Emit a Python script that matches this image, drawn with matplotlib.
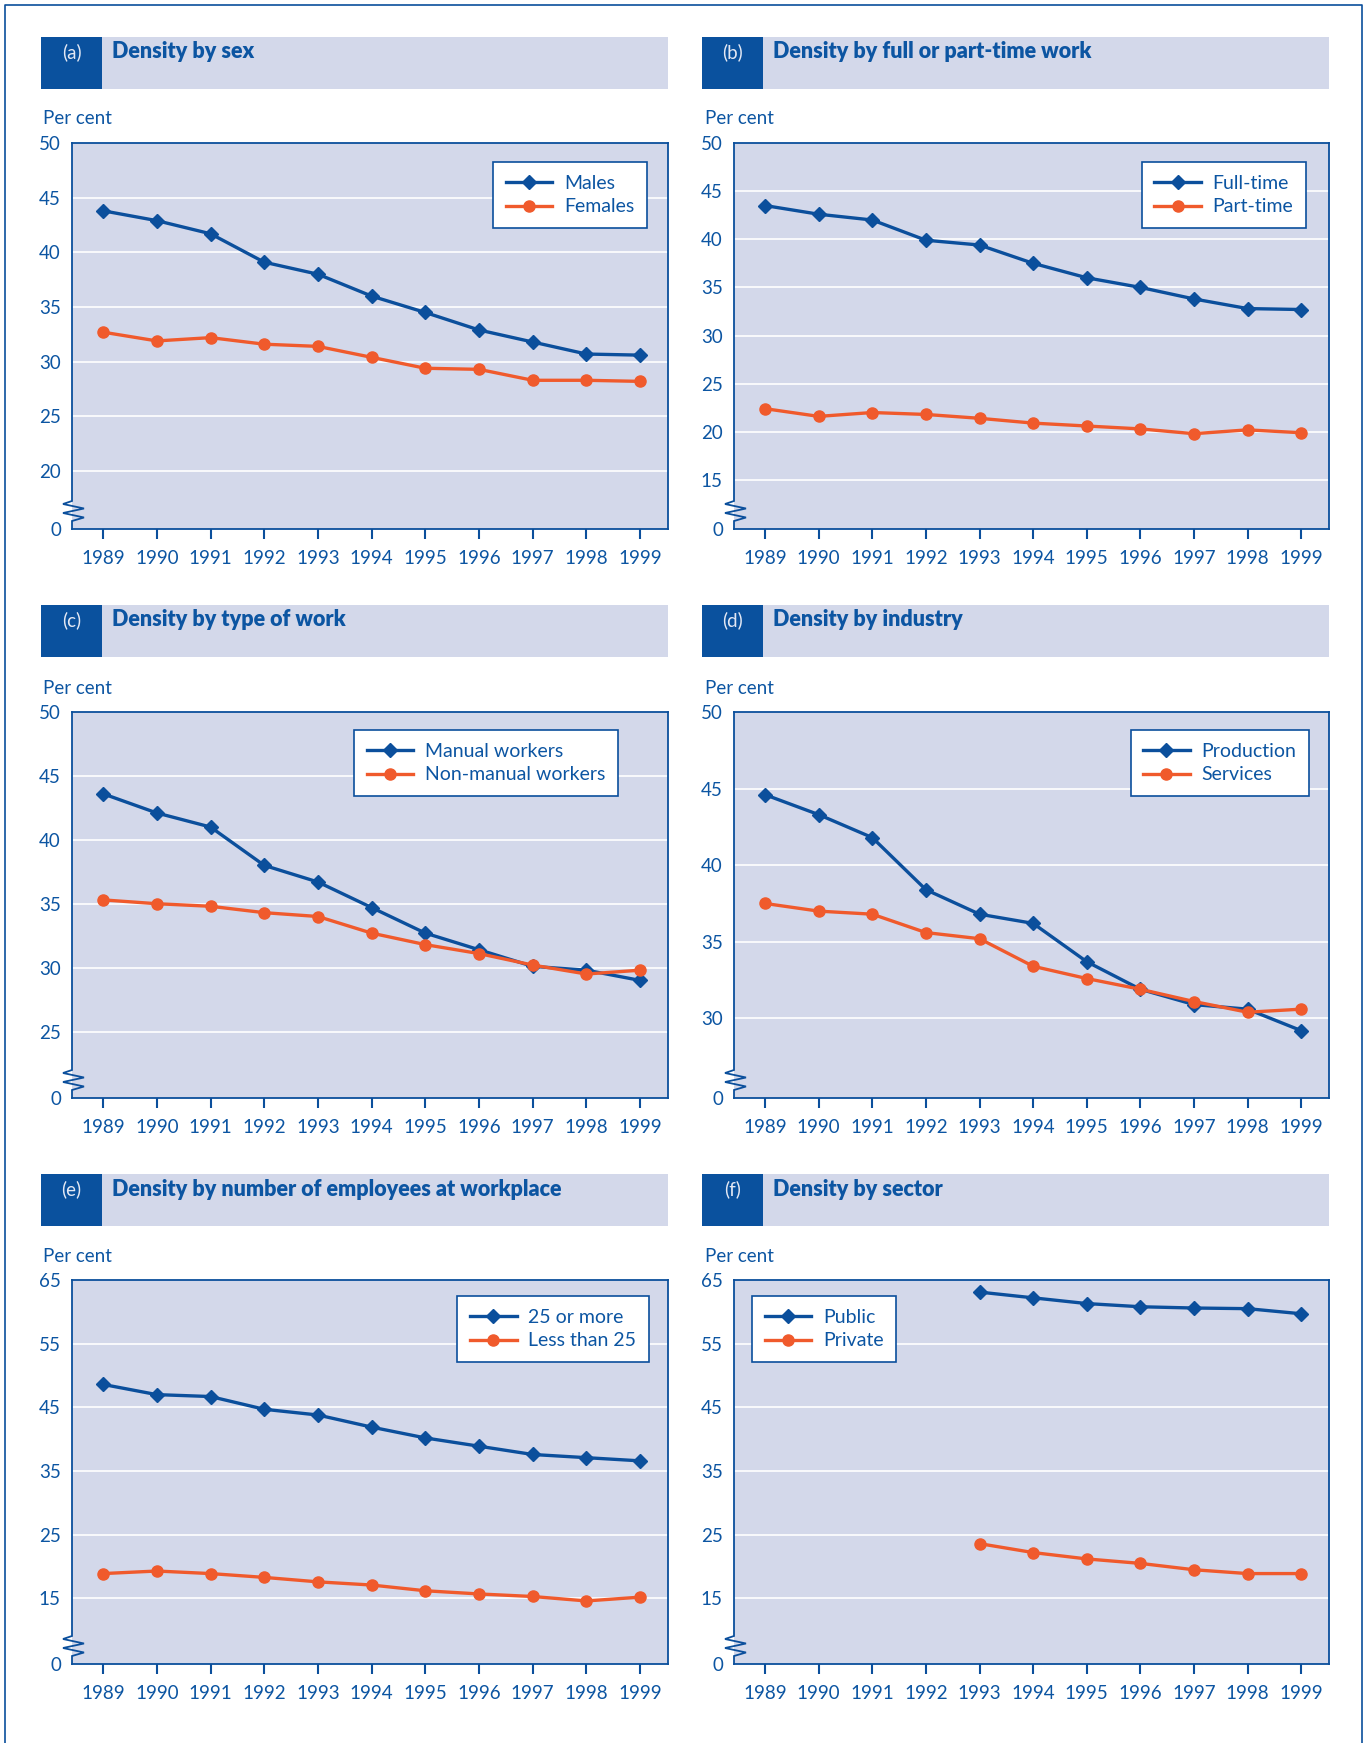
import matplotlib
matplotlib.use("Agg")
import matplotlib.pyplot as plt
from matplotlib.lines import Line2D
from matplotlib.patches import Rectangle

plt.rcParams['font.family'] = ['Lato', 'DejaVu Sans']

years = [1989, 1990, 1991, 1992, 1993, 1994, 1995, 1996, 1997, 1998, 1999]
year_labels = [str(y) for y in years]

males = [43.8, 42.9, 41.7, 39.1, 38.0, 36.0, 34.5, 32.9, 31.8, 30.7, 30.6]
females = [32.7, 31.9, 32.2, 31.6, 31.4, 30.4, 29.4, 29.3, 28.3, 28.3, 28.2]

full_time = [43.5, 42.6, 42.0, 39.9, 39.4, 37.5, 36.0, 35.0, 33.8, 32.8, 32.7]
part_time = [22.4, 21.6, 22.0, 21.8, 21.4, 20.9, 20.6, 20.3, 19.8, 20.2, 19.9]

manual = [43.6, 42.1, 41.0, 38.0, 36.7, 34.7, 32.7, 31.4, 30.1, 29.8, 29.0]
non_manual = [35.3, 35.0, 34.8, 34.3, 34.0, 32.7, 31.8, 31.1, 30.2, 29.5, 29.8]

production = [44.6, 43.3, 41.8, 38.4, 36.8, 36.2, 33.7, 31.9, 30.9, 30.6, 29.2]
services = [37.5, 37.0, 36.8, 35.6, 35.2, 33.4, 32.6, 31.9, 31.1, 30.4, 30.6]

emp_25_plus = [48.6, 47.0, 46.7, 44.7, 43.8, 41.9, 40.2, 38.9, 37.6, 37.1, 36.6]
emp_lt_25 = [18.9, 19.3, 18.9, 18.3, 17.6, 17.1, 16.2, 15.7, 15.3, 14.6, 15.2]

sector_years = [1993, 1994, 1995, 1996, 1997, 1998, 1999]
public = [63.1, 62.2, 61.3, 60.8, 60.6, 60.5, 59.7]
private = [23.6, 22.2, 21.2, 20.5, 19.5, 18.9, 18.9]

BLUE = '#0b4f9c'
TEXT = '#0c55a2'
ORANGE = '#f05a2c'
FACE = '#d3d8ea'
HEADER = '#d3d8ea'

W, H = 1367, 1743
fig = plt.figure(figsize=(W / 100, H / 100), dpi=100)


def fx(x):
    return x / W


def fy(y):
    return 1 - y / H


def fig_line(xs, ys, **kw):
    fig.add_artist(Line2D([fx(x) for x in xs], [fy(y) for y in ys],
                          transform=fig.transFigure, **kw))


# outer page border
fig_line([4.5, 4.5, 1361.5, 1361.5], [1750, 4.5, 4.5, 1750], color=BLUE, lw=1.2)

panels = [
    dict(tag='(a)', title='Density by sex', col=0, row=0,
         series=[(years, males, 'Males'), (years, females, 'Females')],
         ylim=(14.7, 50), yticks=[20, 25, 30, 35, 40, 45, 50],
         legend=('upper right', 21, 19)),
    dict(tag='(b)', title='Density by full or part-time work', col=1, row=0,
         series=[(years, full_time, 'Full-time'), (years, part_time, 'Part-time')],
         ylim=(9.9, 50), yticks=[15, 20, 25, 30, 35, 40, 45, 50],
         legend=('upper right', 23, 19)),
    dict(tag='(c)', title='Density by type of work', col=0, row=1,
         series=[(years, manual, 'Manual workers'), (years, non_manual, 'Non-manual workers')],
         ylim=(19.8, 50), yticks=[25, 30, 35, 40, 45, 50],
         legend=('upper right', 50, 18)),
    dict(tag='(d)', title='Density by industry', col=1, row=1,
         series=[(years, production, 'Production'), (years, services, 'Services')],
         ylim=(24.8, 50), yticks=[30, 35, 40, 45, 50],
         legend=('upper right', 20, 18)),
    dict(tag='(e)', title='Density by number of employees at workplace', col=0, row=2,
         series=[(years, emp_25_plus, '25 or more'), (years, emp_lt_25, 'Less than 25')],
         ylim=(4.7, 65), yticks=[15, 25, 35, 45, 55, 65],
         legend=('upper right', 19, 16)),
    dict(tag='(f)', title='Density by sector', col=1, row=2,
         series=[(sector_years, public, 'Public'), (sector_years, private, 'Private')],
         ylim=(4.7, 65), yticks=[15, 25, 35, 45, 55, 65],
         legend=('upper left', 18, 16)),
]

col_left = [72, 734]
col_right = [668, 1329]
head_left = [41, 702]
row_top = [143, 712, 1280]
row_bot = [529, 1098, 1664]
head_top = [37, 605, 1174]
head_bot = [89, 657, 1226]

for p in panels:
    c, r = p['col'], p['row']
    L, R, T, B = col_left[c], col_right[c], row_top[r], row_bot[r]
    # header band
    hl, ht, hb = head_left[c], head_top[r], head_bot[r]
    fig.add_artist(Rectangle((fx(hl), fy(hb)), fx(R) - fx(hl), fy(ht) - fy(hb),
                             transform=fig.transFigure, facecolor=HEADER, edgecolor='none'))
    fig.add_artist(Rectangle((fx(hl), fy(hb)), fx(61), fy(ht) - fy(hb),
                             transform=fig.transFigure, facecolor='#0a519e', edgecolor='none'))
    fig.text(fx(hl + 30.5), fy(ht + 15), p['tag'], color='#e3e8f4', fontsize=13.5,
             ha='center', va='center', fontweight='normal')
    fig.text(fx(hl + 71), fy(ht + 15), p['title'], color=TEXT, fontsize=15.5,
             ha='left', va='center', fontweight='heavy')
    fig.text(fx(L - 29), fy(T - 24), 'Per cent', color=TEXT, fontsize=13.5,
             ha='left', va='center')

    ax = fig.add_axes([fx(L), fy(B), fx(R) - fx(L), fy(T) - fy(B)])
    ax.set_facecolor(FACE)
    ax.set_xlim(1988.42, 1999.52)
    ax.set_ylim(*p['ylim'])
    ax.set_xticks(years)
    ax.set_xticklabels(year_labels)
    ax.set_yticks([p['ylim'][0]] + p['yticks'])
    ax.set_yticklabels(['0'] + [str(v) for v in p['yticks']])
    for v in p['yticks'][:-1]:
        ax.axhline(v, color='white', lw=1.2, zorder=1)
    ax.tick_params(axis='x', direction='out', length=7, width=1.5, color=BLUE,
                   labelcolor=TEXT, labelsize=13.5, pad=8)
    ax.tick_params(axis='y', length=0, labelcolor=TEXT, labelsize=13.5, pad=8)
    for s in ['top', 'right', 'bottom']:
        ax.spines[s].set_color(BLUE)
        ax.spines[s].set_linewidth(1.3)
    ax.spines['left'].set_visible(False)

    (x1, y1, l1), (x2, y2, l2) = p['series']
    ax.plot(x1, y1, color=BLUE, lw=2.4, marker='D', markersize=7.5, label=l1, zorder=3)
    ax.plot(x2, y2, color=ORANGE, lw=2.4, marker='o', markersize=8, label=l2, zorder=3)

    loc, gx, gy = p['legend']
    w_ax, h_ax = R - L, B - T
    if loc == 'upper right':
        anchor = (1 - gx / w_ax, 1 - gy / h_ax)
    else:
        anchor = (gx / w_ax, 1 - gy / h_ax)
    leg = ax.legend(loc=loc, bbox_to_anchor=anchor, borderaxespad=0, fancybox=False,
                    framealpha=1, edgecolor=BLUE, fontsize=14, handlelength=2.4,
                    labelspacing=0.35, borderpad=0.65, handletextpad=0.6)
    leg.get_frame().set_linewidth(1.2)
    for t in leg.get_texts():
        t.set_color(TEXT)

    # left spine with axis-break zigzag
    fig_line([L, L, L - 9, L + 12, L - 9, L + 12, L, L],
             [T, B - 28, B - 25, B - 20.5, B - 16, B - 11.5, B - 8, B],
             color=BLUE, lw=1.3, solid_joinstyle='miter')

fig.savefig('out.png', dpi=100)
